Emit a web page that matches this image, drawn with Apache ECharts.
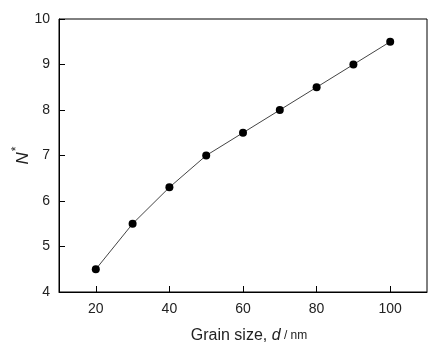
<!DOCTYPE html>
<html>
<head>
<meta charset="utf-8">
<script src="https://cdn.jsdelivr.net/npm/echarts@6/dist/echarts.min.js"></script>
<style>html,body{margin:0;padding:0;background:#fff}#c{width:443px;height:352px}</style>
</head>
<body>
<div id="c"></div>
<script>
var grainSize = [20, 30, 40, 50, 60, 70, 80, 90, 100];
var nStar = [4.5, 5.5, 6.3, 7.0, 7.5, 8.0, 8.5, 9.0, 9.5];
var xTicks = [20, 40, 60, 80, 100];

var chart = echarts.init(document.getElementById('c'));
var font = 'Liberation Sans, Arial, sans-serif';
chart.setOption({
  animation: false,
  backgroundColor: '#fff',
  grid: { left: 59, right: 16, top: 19, bottom: 60, containLabel: false, outerBoundsMode: 'none',
    show: true, borderColor: '#000', borderWidth: 1 },
  xAxis: {
    type: 'value', min: 10, max: 110, interval: 10,
    name: '{a|Grain size, }{i|d}{b| / nm}',
    nameLocation: 'middle', nameGap: 36,
    nameTextStyle: {
      padding: [0, 0, 0, 12],
      rich: {
        a: { fontFamily: font, fontSize: 16, color: '#222' },
        i: { fontFamily: font, fontSize: 16, fontStyle: 'italic', color: '#222' },
        b: { fontFamily: font, fontSize: 12, color: '#222' }
      }
    },
    axisLine: { show: true, lineStyle: { color: '#000', width: 1 } },
    axisTick: { show: true, inside: true, length: 6, lineStyle: { color: '#000', width: 1 }, customValues: xTicks },
    axisLabel: { fontFamily: font, fontSize: 14, color: '#222', margin: 10, customValues: xTicks },
    splitLine: { show: false }
  },
  yAxis: {
    type: 'value', min: 4, max: 10, interval: 1,
    name: '{n|N}{s|*}',
    nameLocation: 'middle', nameGap: 24, nameMoveOverlap: false,
    nameTextStyle: {
      rich: {
        n: { fontFamily: font, fontSize: 17, fontStyle: 'italic', color: '#222' },
        s: { fontFamily: font, fontSize: 12, color: '#222', padding: [0, 0, 12, 1] }
      }
    },
    axisLine: { show: true, lineStyle: { color: '#000', width: 1 } },
    axisTick: { show: true, inside: true, length: 6, lineStyle: { color: '#000', width: 1 } },
    axisLabel: { fontFamily: font, fontSize: 14, color: '#222', margin: 9 },
    splitLine: { show: false }
  },
  series: [{
    type: 'line',
    data: grainSize.map(function (x, i) { return [x, nStar[i]]; }),
    symbol: 'circle', symbolSize: 8,
    itemStyle: { color: '#000' },
    lineStyle: { color: '#444', width: 1 }
  }]
});
</script>
</body>
</html>
